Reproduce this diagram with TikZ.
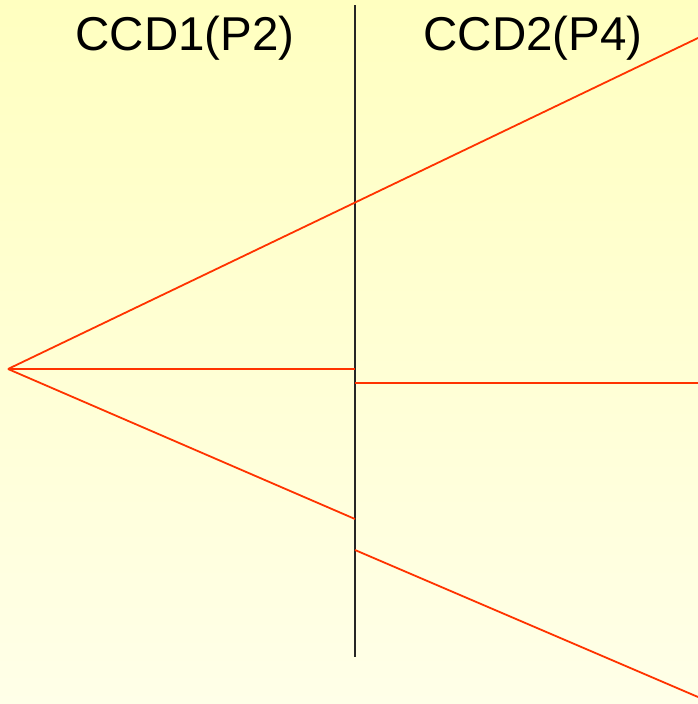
\documentclass[tikz,border=0pt]{standalone}
\usepackage{fontspec}
\setmainfont{Liberation Sans}
\usetikzlibrary{positioning}
\definecolor{raycol}{RGB}{255,51,0}
\definecolor{bgtop}{RGB}{255,255,192}
\definecolor{bgbot}{RGB}{255,255,232}
\tikzset{ray/.style={raycol,line width=1.8pt},
 ccdline/.style={black!85,line width=2pt},
 ccdlabel/.style={anchor=base,inner sep=0pt,font=\fontsize{47.5}{50}\selectfont}}
\begin{document}
\begin{tikzpicture}[x=1pt,y=-1pt]
 \shade[top color=bgtop,bottom color=bgbot] (0,0) rectangle (698,704);
 \useasboundingbox (0,0) rectangle (698,704);
 % detector labels
 \node[ccdlabel] (L1) at (185,50) {CCD1(P2)};
 \node[ccdlabel] (L2) at (533,50) {CCD2(P4)};
 % boundary between the two CCDs
 \coordinate (B1) at (355,5);
 \coordinate (B2) at (355,657);
 \draw [ccdline] (B1) -- (B2);
 % source point and ray ends
 \coordinate (S) at (8,369);
 \coordinate (U) at (698,38);
 \coordinate (M1) at (355,369);
 \coordinate (M2) at (355,383);
 \coordinate (M3) at (698,383);
 \coordinate (D1) at (355,519);
 \coordinate (D2) at (355,550);
 \coordinate (D3) at (698,697);
 \draw [ray] (S) -- (U);
 \draw [ray] (S) -- (M1);
 \draw [ray] (M2) -- (M3);
 \draw [ray] (S) -- (D1);
 \draw [ray] (D2) -- (D3);
\end{tikzpicture}
\end{document}
